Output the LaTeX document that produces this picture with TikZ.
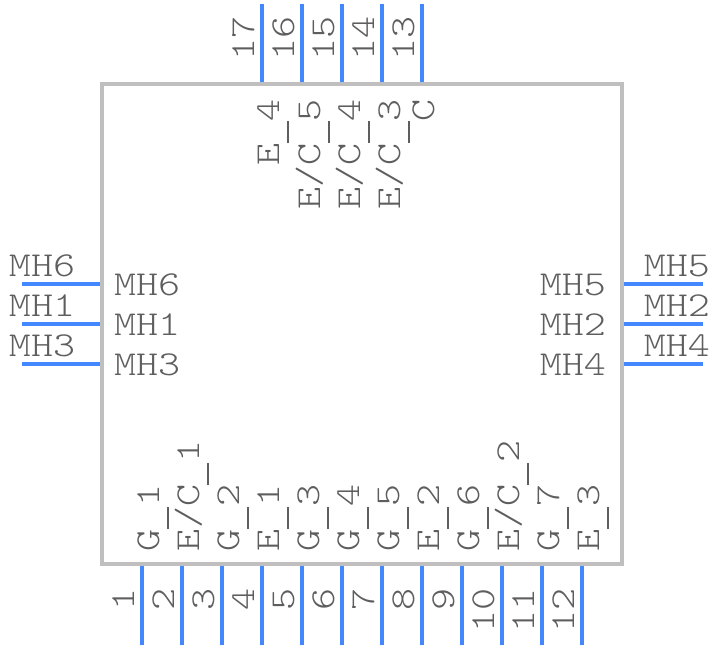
\documentclass[tikz,border=0pt]{standalone}
\usepackage{fontspec}
\setmonofont{Latin Modern Mono Light}
\definecolor{pinblue}{HTML}{4488FF}
\definecolor{bodygray}{HTML}{BFBFBF}
\definecolor{textgray}{HTML}{5E5E5E}
\newcommand{\pinlabel}[1]{\scalebox{1.2}[1]{\fontsize{35}{35}\selectfont\ttfamily #1}}
\newcommand{\us}{\rule[-9.5pt]{18.37pt}{1.7pt}}
\tikzset{
  pinline/.style={draw=pinblue,line width=4pt},
  bodybox/.style={draw=bodygray,line width=4pt},
  lbl/.style={inner sep=0pt,outer sep=0pt,text=textgray,font=\relax},
  upstart/.style={lbl,rotate=90,anchor=base west},
  upend/.style={lbl,rotate=90,anchor=base east},
  hstart/.style={lbl,anchor=base west},
  hend/.style={lbl,anchor=base east}
}
\begin{document}
\begin{tikzpicture}[x=1pt,y=-1pt]
\useasboundingbox (0,0) rectangle (724,648);
\coordinate (tl) at (102,84);
\coordinate (br) at (622,564);
\draw[bodybox] (tl) rectangle (br);
% bottom pins
\foreach \n/\x/\t/\s in {1/142/1/{G\us 1},2/182/2/{E/C\us 1},3/222/3/{G\us 2},4/262/4/{E\us 1},5/302/5/{G\us 3},6/342/6/{G\us 4},7/382/7/{G\us 5},8/422/8/{E\us 2},9/462/9/{G\us 6},10/502/10/{E/C\us 2},11/542/11/{G\us 7},12/582/12/{E\us 3}}{
  \coordinate (pb\n a) at (\x,566);
  \coordinate (pb\n b) at (\x,645);
  \draw[pinline] (pb\n a) -- (pb\n b);
  \node[upend] (nb\n) at (\x-8,588) {\pinlabel{\t}};
  \node[upstart] (ib\n) at (\x+17,551) {\pinlabel{\s}};
}
% top pins
\foreach \n/\x/\t/\s/\b in {17/262/17/{E\us 4}/279,16/302/16/{E/C\us 5}/320,15/342/15/{E/C\us 4}/360,14/382/14/{E/C\us 3}/400,13/422/13/{C}/434}{
  \coordinate (pt\n a) at (\x,4);
  \coordinate (pt\n b) at (\x,82);
  \draw[pinline] (pt\n a) -- (pt\n b);
  \node[upend] (nt\n) at (\x-8,16) {\pinlabel{\t}};
  \node[upend] (it\n) at (\b,99) {\pinlabel{\s}};
}
% left pins
\foreach \n/\y/\t in {a/284/MH6,b/324/MH1,c/364/MH3}{
  \coordinate (pl\n a) at (22,\y);
  \coordinate (pl\n b) at (100,\y);
  \draw[pinline] (pl\n a) -- (pl\n b);
  \node[hstart] (nl\n) at (9,\y-8) {\pinlabel{\t}};
  \node[hstart] (il\n) at (114,\y+11) {\pinlabel{\t}};
}
% right pins
\foreach \n/\y/\t in {a/284/MH5,b/324/MH2,c/364/MH4}{
  \coordinate (pr\n a) at (624,\y);
  \coordinate (pr\n b) at (703,\y);
  \draw[pinline] (pr\n a) -- (pr\n b);
  \node[hend] (nr\n) at (710,\y-8) {\pinlabel{\t}};
  \node[hend] (ir\n) at (606,\y+11) {\pinlabel{\t}};
}
\end{tikzpicture}
\end{document}
